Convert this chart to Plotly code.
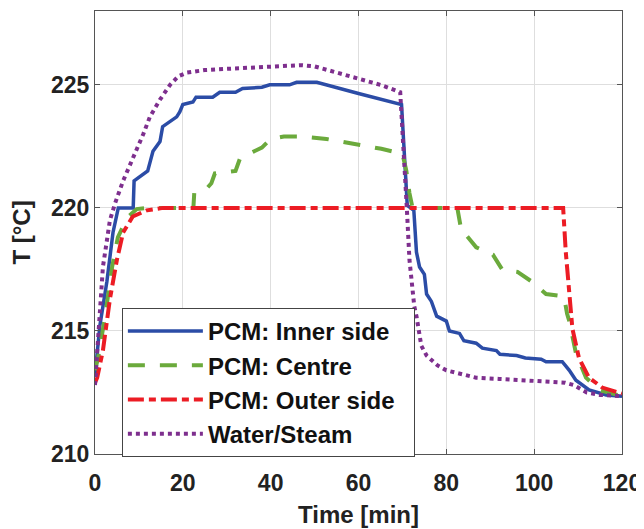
import plotly.graph_objects as go

# Time [min] and temperature [°C]
inner_t = [0, 1.1, 2.7, 4.1, 5.3, 8.7, 8.9, 12, 12.6, 13.2, 14.8, 15.4, 18.6, 19.3, 20, 22.3, 23,
           26.8, 28.4, 32, 33.6, 38, 39.8, 44.3, 45.9, 50.5, 60, 69.8, 70.5, 71.1, 72.6, 73.2, 73.9,
           75.0, 75.5, 76.6, 77.8, 80.0, 80.7, 83, 84, 86.8, 88.2, 91.4, 92.2, 96, 98, 101.6, 102.7,
           106.4, 108, 109.5, 112.5, 116.4, 120]
inner_T = [213.2, 215.2, 217.0, 219.0, 220.0, 220.0, 221.1, 221.5, 221.9, 222.3, 222.7, 223.3, 223.7,
           223.9, 224.2, 224.3, 224.5, 224.5, 224.7, 224.7, 224.85, 224.9, 225.0, 225.0, 225.1, 225.1,
           224.65, 224.2, 222.0, 220.1, 219.9, 218.2, 217.6, 217.3, 216.5, 216.2, 215.6, 215.4, 215.0,
           214.9, 214.6, 214.5, 214.3, 214.2, 214.05, 214.0, 213.9, 213.85, 213.75, 213.75, 213.4,
           213.0, 212.6, 212.4, 212.35]

centre_t = [0, 0.7, 2.3, 3.9, 5.2, 7.3, 9.5, 12, 22.4, 22.6, 25.5, 26.5, 27.3, 32, 33, 34.5, 38, 40,
            43, 47, 52.7, 61.8, 65.2, 70, 70.9, 71.6, 72.3, 82.5, 83, 83.5, 84.5, 86.8, 90.6, 92.7,
            96.2, 99.5, 102.7, 106.8, 107.5, 108, 109.5, 111.8, 114.8, 118.6, 120]
centre_T = [213.4, 213.9, 215.6, 217.6, 218.8, 219.6, 219.95, 220.0, 220.0, 220.6, 220.8, 221.0, 221.4,
            221.5, 222.0, 222.15, 222.45, 222.8, 222.9, 222.9, 222.8, 222.5, 222.4, 222.2, 221.5,
            220.6, 220.0, 220.0, 219.4, 219.0, 218.9, 218.4, 218.1, 217.5, 217.4, 217.0, 216.5,
            216.4, 215.7, 215.4, 214.1, 213.1, 212.6, 212.4, 212.35]

outer_t = [0, 0.5, 1.8, 3.4, 5, 6.4, 8.6, 11.8, 15.5, 106.6, 107.2, 108.0, 108.7, 110.2, 112.5,
           115.5, 120]
outer_T = [212.9, 213.1, 214.2, 216.3, 217.9, 219.0, 219.65, 219.9, 220.0, 220.0, 218.2, 216.4,
           215.1, 213.9, 213.1, 212.7, 212.45]

water_t = [0, 0.7, 1.8, 3.4, 4.6, 6.4, 8.6, 11, 12.5, 14.8, 17.1, 19, 21, 25, 30, 37, 42, 47, 50, 55,
           61, 65, 69.5, 70, 71, 71.6, 72.2, 72.7, 73.2, 74.3, 75.5, 76.6, 78, 80, 83, 86.8, 92, 98,
           103, 107, 109, 112, 115, 120]
water_T = [212.8, 214.9, 217.6, 219.5, 220.2, 221.1, 222.0, 223.0, 223.7, 224.4, 225.0, 225.35, 225.5,
           225.6, 225.65, 225.7, 225.75, 225.8, 225.75, 225.5, 225.2, 225.0, 224.7, 223.3, 220.0,
           217.9, 216.8, 216.0, 215.6, 214.4, 214.0, 213.8, 213.6, 213.4, 213.25, 213.1, 213.05,
           213.0, 212.95, 212.9, 212.8, 212.5, 212.4, 212.35]

x_ticks = [0, 20, 40, 60, 80, 100, 120]
y_ticks = [210, 215, 220, 225]

FONT = "Liberation Sans"
TXT = "#222222"

fig = go.Figure()
fig.add_trace(go.Scatter(x=inner_t, y=inner_T, mode="lines", name="<b>PCM: Inner side</b>",
                         line=dict(color="#2B4CA6", width=3.5)))
fig.add_trace(go.Scatter(x=centre_t, y=centre_T, mode="lines", name="<b>PCM: Centre</b>",
                         line=dict(color="#6BAA3C", width=4, dash="17px,15px")))
fig.add_trace(go.Scatter(x=outer_t, y=outer_T, mode="lines", name="<b>PCM: Outer side</b>&nbsp;&nbsp;",
                         line=dict(color="#EC1C24", width=4, dash="16px,5px,7px,5px")))
fig.add_trace(go.Scatter(x=water_t, y=water_T, mode="lines", name="<b>Water/Steam</b>",
                         line=dict(color="#7E2F8E", width=4, dash="4px,4px")))

axis_common = dict(showline=True, linecolor="#555555", linewidth=1, mirror="allticks",
                   ticks="inside", ticklen=5, tickcolor="#555555", showgrid=True,
                   gridcolor="#DEDEDE", gridwidth=1, zeroline=False, automargin=False,
                   tickfont=dict(family=FONT, size=23, color=TXT))

fig.update_xaxes(range=[0, 120], tickvals=x_ticks, ticktext=[f"<b>{v}</b>" for v in x_ticks],
                 ticklabelstandoff=8,
                 title=dict(text="<b>Time [min]</b>", font=dict(family=FONT, size=24, color=TXT),
                            standoff=11),
                 **axis_common)
fig.update_yaxes(range=[210, 228], tickvals=y_ticks, ticktext=[f"<b>{v}</b>" for v in y_ticks],
                 title=dict(text="<b>T [°C]</b>", font=dict(family=FONT, size=24, color=TXT),
                            standoff=20),
                 **axis_common)

# the page places the figure 8 px in from the top-left corner, margins compensate for it
fig.update_layout(
    width=644, height=529,
    margin=dict(l=87, r=30, t=3, b=83),
    paper_bgcolor="white", plot_bgcolor="white",
    showlegend=True,
    legend=dict(x=0.051, y=0.3296, xanchor="left", yanchor="top",
                bgcolor="white", bordercolor="#444444", borderwidth=1,
                font=dict(family=FONT, size=24, color="#111111"),
                itemwidth=75, tracegroupgap=0),
)

fig.write_html("out.html")
